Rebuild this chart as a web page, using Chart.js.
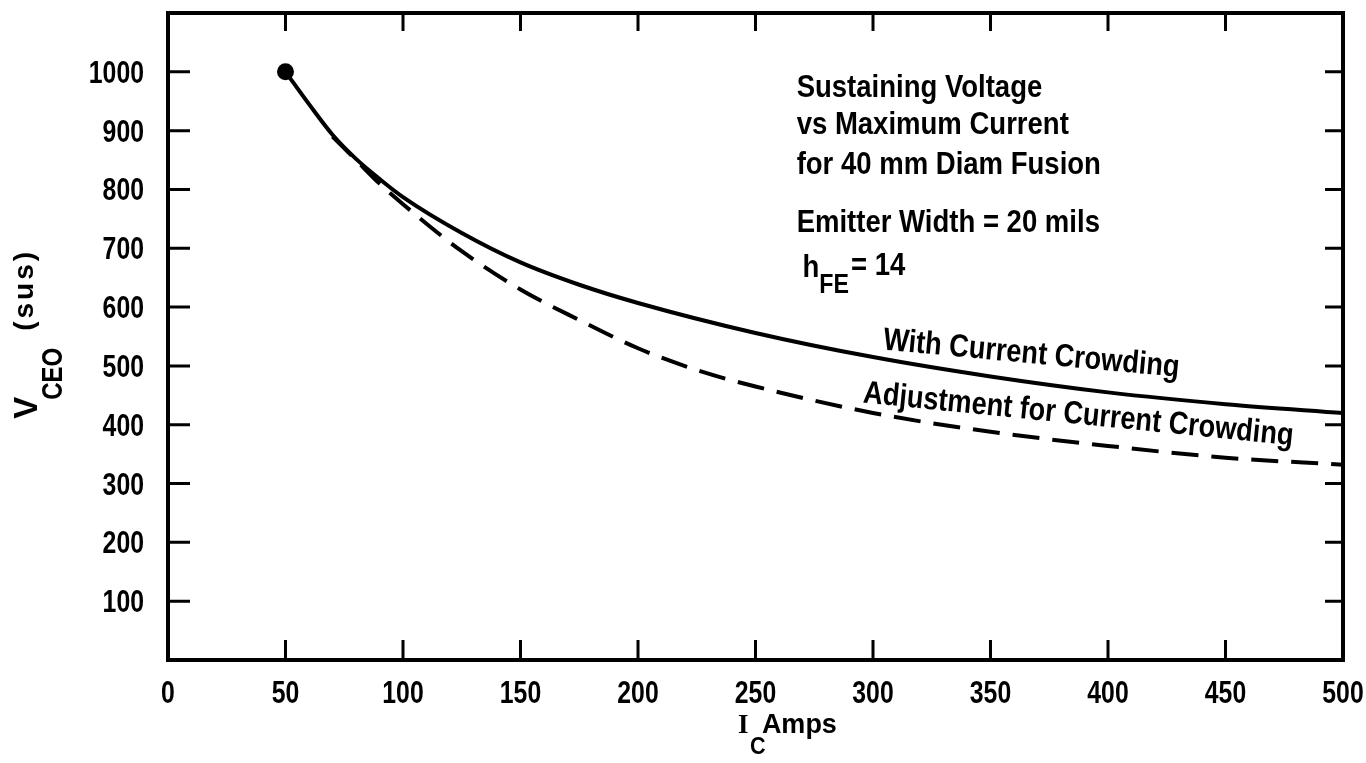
<!DOCTYPE html>
<html lang="en">
<head>
  <meta charset="UTF-8" />
  <title>Sustaining Voltage vs Maximum Current</title>
  <script src="https://cdn.jsdelivr.net/npm/chart.js"></script>
  <style>
    * { margin: 0; padding: 0; box-sizing: border-box; }
    body { background: #fff; }
    canvas { display: block; }
  </style>
</head>
<body>
  <canvas id="chart" width="1366" height="763"></canvas>
  <script>
    // values
    const withCrowdingX = [50, 60, 70, 80, 90, 100, 125, 150, 175, 200, 250, 300, 350, 400, 450, 500];
    const withCrowdingY = [1000, 945, 893, 852, 818, 787, 726, 676, 638, 607, 556, 515, 482, 455, 435, 420];
    const adjustedX = [70, 80, 90, 100, 125, 150, 175, 200, 225, 250, 300, 350, 400, 450, 500];
    const adjustedY = [890, 850, 810, 775, 695, 630, 578, 530, 493, 465, 420, 388, 364, 344, 332];

    const xTicks = [0, 50, 100, 150, 200, 250, 300, 350, 400, 450, 500];
    const yTicks = [100, 200, 300, 400, 500, 600, 700, 800, 900, 1000];

    const notes = ["Sustaining Voltage", "vs Maximum Current", "for 40 mm Diam Fusion", "Emitter Width = 20 mils"];
    const curveLabels = ["With Current Crowding", "Adjustment for Current Crowding"];

    const FONT = "'Liberation Sans', Arial, sans-serif";
    const toPoints = (xs, ys) => xs.map((x, i) => ({ x: x, y: ys[i] }));

    // text squeezed sideways to get the narrow lettering of the original
    function label(ctx, str, x, y, size, sx, align) {
      ctx.save();
      ctx.translate(x, y);
      ctx.scale(sx, 1);
      ctx.font = 'bold ' + size + 'px ' + FONT;
      ctx.textAlign = align || 'left';
      ctx.textBaseline = 'alphabetic';
      ctx.fillText(str, 0, 0);
      const w = ctx.measureText(str).width * sx;
      ctx.restore();
      return w;
    }

    const drawExtras = {
      id: 'drawExtras',
      afterDraw(chart) {
        const ctx = chart.ctx, a = chart.chartArea;
        const x = chart.scales.x, y = chart.scales.y;
        ctx.save();
        ctx.strokeStyle = '#000';
        ctx.fillStyle = '#000';

        // frame
        ctx.lineWidth = 4;
        ctx.strokeRect(a.left, a.top, a.right - a.left, a.bottom - a.top);

        // inward tick marks on all four sides
        ctx.lineWidth = 3;
        ctx.beginPath();
        xTicks.slice(1, -1).forEach(v => {
          const px = x.getPixelForValue(v);
          ctx.moveTo(px, a.bottom); ctx.lineTo(px, a.bottom - 20);
          ctx.moveTo(px, a.top); ctx.lineTo(px, a.top + 18);
        });
        yTicks.forEach(v => {
          const py = y.getPixelForValue(v);
          ctx.moveTo(a.left, py); ctx.lineTo(a.left + 22, py);
          ctx.moveTo(a.right, py); ctx.lineTo(a.right - 18, py);
        });
        ctx.stroke();

        // tick labels
        xTicks.forEach(v => label(ctx, String(v), x.getPixelForValue(v), a.bottom + 43, 31, 0.8, 'center'));
        yTicks.forEach(v => label(ctx, String(v), a.left - 24, y.getPixelForValue(v) + 11, 31, 0.8, 'right'));

        // text block
        const nx = x.getPixelForValue(267.5);
        label(ctx, notes[0], nx, y.getPixelForValue(957), 32, 0.86);
        label(ctx, notes[1], nx, y.getPixelForValue(894), 32, 0.86);
        label(ctx, notes[2], nx, y.getPixelForValue(826), 32, 0.86);
        label(ctx, notes[3], nx, y.getPixelForValue(727), 32, 0.86);

        // h_FE = 14
        const hx = x.getPixelForValue(270), hy = y.getPixelForValue(652);
        let w = label(ctx, 'h', hx, hy, 32, 0.86);
        w += label(ctx, 'FE', hx + w, hy + 16, 27, 0.86);
        label(ctx, '= 14', hx + w + 2, hy - 2, 32, 0.86);

        // labels along the curves
        [[curveLabels[0], 304, 528, 5.3], [curveLabels[1], 295.5, 438, 5.7]].forEach(l => {
          ctx.save();
          ctx.translate(x.getPixelForValue(l[1]), y.getPixelForValue(l[2]));
          ctx.rotate(l[3] * Math.PI / 180);
          label(ctx, l[0], 0, 0, 32, 0.85);
          ctx.restore();
        });

        // x title: I_C Amps
        const tx = x.getPixelForValue(242.5), ty = a.bottom + 73;
        ctx.font = 'bold 27px "Liberation Serif"';
        ctx.fillText('I', tx, ty);
        label(ctx, 'C', tx + 12, ty + 21, 24, 0.9);
        label(ctx, 'Amps', tx + 24, ty, 27, 1);

        // y title: V_CEO (sus), rotated
        ctx.save();
        ctx.translate(37, y.getPixelForValue(410));
        ctx.rotate(-Math.PI / 2);
        w = label(ctx, 'V', 0, 0, 33, 1);
        w += label(ctx, 'CEO', w - 3, 25, 30, 0.8);
        ctx.save();
        ctx.letterSpacing = '3px';
        label(ctx, '(sus)', w + 14, -4, 28, 1);
        ctx.restore();
        ctx.restore();

        ctx.restore();
      }
    };

    new Chart(document.getElementById('chart'), {
      type: 'scatter',
      data: {
        datasets: [
          {
            label: curveLabels[0],
            data: toPoints(withCrowdingX, withCrowdingY),
            showLine: true,
            borderColor: '#000',
            borderWidth: 4,
            cubicInterpolationMode: 'monotone',
            pointRadius: c => c.dataIndex === 0 ? 6.5 : 0,
            pointBackgroundColor: '#000',
            pointBorderColor: '#000'
          },
          {
            label: curveLabels[1],
            data: toPoints(adjustedX, adjustedY),
            showLine: true,
            borderColor: '#000',
            borderWidth: 4,
            borderDash: [27, 13],
            cubicInterpolationMode: 'monotone',
            pointRadius: 0
          }
        ]
      },
      options: {
        responsive: false,
        animation: false,
        layout: { padding: { left: 0, top: 13, right: 23, bottom: 0 } },
        plugins: { legend: { display: false }, tooltip: { enabled: false } },
        scales: {
          x: {
            type: 'linear',
            min: 0, max: 500,
            grid: { display: false, drawTicks: false },
            border: { display: false },
            ticks: { display: false, stepSize: 50 },
            afterFit: s => { s.height = 103; }
          },
          y: {
            type: 'linear',
            min: 0, max: 1100,
            grid: { display: false, drawTicks: false },
            border: { display: false },
            ticks: { display: false, stepSize: 100 },
            afterFit: s => { s.width = 168; }
          }
        }
      },
      plugins: [drawExtras]
    });
  </script>
</body>
</html>
